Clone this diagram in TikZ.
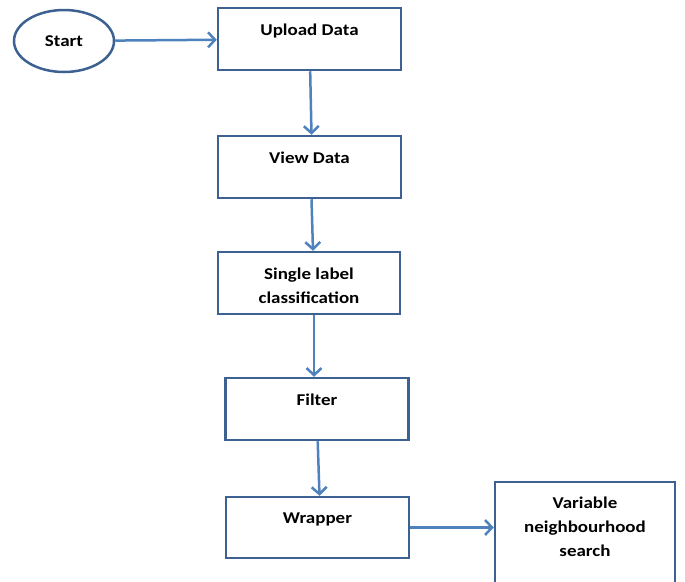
\documentclass[tikz,border=0pt]{standalone}
\usepackage{fontspec}
\setmainfont{Carlito}[FakeStretch=1.15]
\usetikzlibrary{shapes.geometric,arrows.meta}
\definecolor{boxline}{HTML}{3D6190}
\definecolor{flowline}{HTML}{4F81BD}
\begin{document}
\begin{tikzpicture}[x=1pt, y=-1pt,
		stepbox/.style={draw=boxline, line width=2.5pt, minimum width=183pt, minimum height=62pt, inner sep=0pt},
		boxtext/.style={anchor=north, yshift=-17pt, inner sep=0pt, align=center, font=\fontsize{16.5}{24}\selectfont\bfseries},
		flow/.style={draw=flowline, line width=2.5pt, -{Straight Barb[length=7pt, width=15pt, line width=2.5pt]}}]
		\useasboundingbox (0, 0) rectangle (685, 581);
		\clip (0, 0) rectangle (685, 581);

		\node[ellipse, draw=boxline, line width=2.5pt, minimum width=100pt, minimum height=62pt, font=\fontsize{16.5}{24}\selectfont\bfseries] (start) at (64, 41) {Start};
		\node[stepbox, label={[boxtext]north:Upload Data}] (upload) at (309.5, 39) {};
		\node[stepbox, label={[boxtext]north:View Data}] (view) at (309.5, 167) {};
		\node[stepbox, minimum width=182pt, label={[boxtext]north:Single label\\classification}] (single) at (309, 283) {};
		\node[stepbox, label={[boxtext]north:Filter}] (filter) at (317, 409) {};
		\node[stepbox, minimum height=61pt, label={[boxtext]north:Wrapper}] (wrapper) at (317.5, 527.5) {};
		\node[stepbox, minimum width=180pt, minimum height=120pt, label={[boxtext, yshift=1pt]north:Variable\\neighbourhood\\search}] (vns) at (585, 542) {};

		\draw[flow] (start) -- (upload);
		\draw[flow] (upload) -- ([xshift=2pt]view.north);
		\draw[flow] ([xshift=2pt]view.south) -- ([xshift=4pt]single.north);
		\draw[flow] ([xshift=5pt]single.south) -- ([xshift=-3pt]filter.north);
		\draw[flow] ([xshift=0.7pt]filter.south) -- ([xshift=2pt]wrapper.north);
		\draw[flow] (wrapper.east) -- (wrapper.east -| vns.west);
	\end{tikzpicture}
\end{document}
